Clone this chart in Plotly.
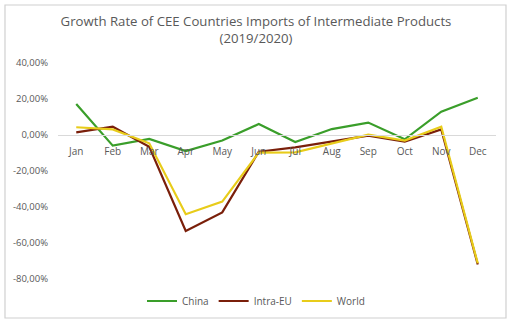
import plotly.graph_objects as go

months = ["Jan", "Feb", "Mar", "Apr", "May", "Jun", "Jul", "Aug", "Sep", "Oct", "Nov", "Dec"]
china = [17.2, -5.9, -2.2, -8.9, -3.1, 6.1, -3.9, 3.3, 6.9, -2.4, 13.0, 20.7]
intra_eu = [1.5, 4.6, -6.5, -53.3, -43.0, -9.3, -6.9, -3.7, -0.4, -3.7, 3.1, -71.9]
world = [4.3, 3.1, -4.6, -44.0, -37.0, -9.8, -9.6, -4.6, 0.2, -3.1, 4.6, -71.3]
ytick_vals = [40, 20, 0, -20, -40, -60, -80]
ytick_text = ["40,00%", "20,00%", "0,00%", "-20,00%", "-40,00%", "-60,00%", "-80,00%"]

font = "Open Sans"
gray = "#595959"

fig = go.Figure()
fig.add_trace(go.Scatter(x=months, y=china, name="China", mode="lines",
                         line=dict(color="#3a9e2a", width=2.2)))
fig.add_trace(go.Scatter(x=months, y=intra_eu, name="Intra-EU", mode="lines",
                         line=dict(color="#7a1f0a", width=2.2)))
fig.add_trace(go.Scatter(x=months, y=world, name="World", mode="lines",
                         line=dict(color="#e8cc1a", width=2.2)))

fig.update_layout(
    width=512, height=325,
    margin=dict(l=58, r=16, t=63, b=46, autoexpand=False),
    paper_bgcolor="white", plot_bgcolor="white",
    font=dict(family=font, size=10, color=gray),
    title=dict(text="Growth Rate of CEE Countries Imports of Intermediate Products<br>(2019/2020)",
               x=0.5, xref="container", xanchor="center",
               y=1 - 26 / 325, yref="container", yanchor="top",
               font=dict(family=font, size=13.2, color=gray)),
    showlegend=True,
    legend=dict(orientation="h", x=(256 - 58) / 438, xref="paper", xanchor="center",
                y=(279 - 301) / 216, yanchor="middle", font=dict(family=font, size=10, color=gray),
                itemwidth=30, tracegroupgap=0, bgcolor="rgba(0,0,0,0)"),
    xaxis=dict(type="category", anchor="free", position=80/120, range=[-0.5, 11.5],
               showline=True, linecolor="#d9d9d9", linewidth=1,
               showgrid=False, ticks="", zeroline=False, tickangle=0,
               ticklabelstandoff=7,
               tickfont=dict(family=font, size=10, color=gray)),
    yaxis=dict(range=[-80, 40], tickvals=ytick_vals, ticktext=ytick_text,
               showgrid=False, zeroline=False, showline=False, ticks="",
               ticklabelstandoff=9,
               tickfont=dict(family=font, size=9.5, color=gray)),
    shapes=[dict(type="rect", xref="paper", yref="paper",
                 x0=(5 - 58) / 438, x1=(506 - 58) / 438,
                 y0=(279 - 318) / 216, y1=(279 - 5) / 216,
                 line=dict(color="#d0d0d0", width=1.2), fillcolor="rgba(0,0,0,0)", layer="below")],
)

fig.write_html("out.html")
